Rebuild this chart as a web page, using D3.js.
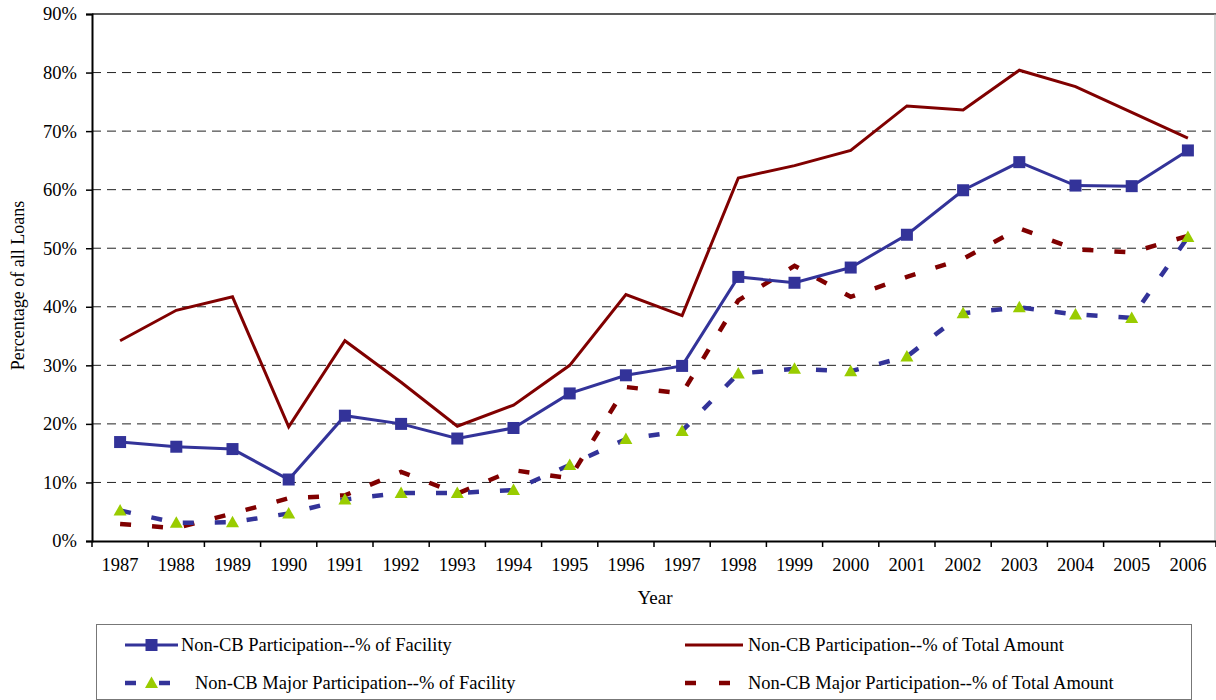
<!DOCTYPE html>
<html>
<head>
<meta charset="utf-8">
<script src="https://cdn.jsdelivr.net/npm/d3@7"></script>
<style>
  body { margin: 0; background: #fff; }
  svg text { font-family: "Liberation Serif", "Times New Roman", serif; fill: #000; }
</style>
</head>
<body>
<div id="chart"></div>
<script>
const width = 1216;
const height = 700;
const margin = { top: 14, bottom: 159, left: 92, right: 0 };

// data
const years = ["1987","1988","1989","1990","1991","1992","1993","1994","1995","1996",
               "1997","1998","1999","2000","2001","2002","2003","2004","2005","2006"];
const facility      = [16.9,16.1,15.7,10.5,21.4,20.0,17.5,19.3,25.2,28.3,29.9,45.1,44.1,46.7,52.3,59.9,64.7,60.7,60.6,66.7];
const totalAmount   = [34.2,39.4,41.7,19.5,34.2,27.1,19.6,23.2,30.0,42.1,38.5,62.0,64.1,66.7,74.3,73.6,80.4,77.6,73.2,68.8];
const majorFacility = [5.2,3.1,3.2,4.7,7.1,8.2,8.2,8.7,13.0,17.4,18.8,28.6,29.4,29.0,31.5,38.9,39.9,38.7,38.1,51.9];
const majorTotal    = [2.9,2.2,4.7,7.3,7.8,11.8,8.1,12.1,10.7,26.3,25.2,41.1,47.0,41.7,45.1,48.2,53.4,49.8,49.3,52.1];
const yTicks = [0,10,20,30,40,50,60,70,80,90];

const series = [
  { name: "Non-CB Participation--% of Facility", values: facility, color: "#333399", width: 3, dash: null, marker: "square" },
  { name: "Non-CB Participation--% of Total Amount", values: totalAmount, color: "#800000", width: 3, dash: null, marker: null },
  { name: "Non-CB Major Participation--% of Facility", values: majorFacility, color: "#333399", width: 4.5, dash: "11,21", marker: "triangle" },
  { name: "Non-CB Major Participation--% of Total Amount", values: majorTotal, color: "#800000", width: 4.5, dash: "11,21", marker: null }
];

const serif = "'Liberation Serif', 'Times New Roman', serif";

const svg = d3.select("#chart").append("svg")
  .attr("width", width)
  .attr("height", height)
  .attr("font-family", serif);

const x = d3.scaleBand()
  .domain(years)
  .range([margin.left, width - margin.right])
  .padding(0);

const y = d3.scaleLinear()
  .domain([0, 90])
  .range([height - margin.bottom, margin.top]);

const bottom = height - margin.bottom;

// grid lines
svg.selectAll(".grid")
  .data(yTicks.filter(d => d > 0 && d < 90))
  .enter().append("line")
  .attr("class", "grid")
  .attr("x1", margin.left)
  .attr("x2", width - margin.right)
  .attr("y1", d => y(d))
  .attr("y2", d => y(d))
  .attr("stroke", "#222")
  .attr("stroke-width", 1)
  .attr("stroke-dasharray", "9,6");

// frame: top line and right edge
svg.append("line")
  .attr("x1", margin.left).attr("x2", width)
  .attr("y1", y(90)).attr("y2", y(90))
  .attr("stroke", "#222").attr("stroke-width", 1.5);
svg.append("line")
  .attr("x1", width - 1).attr("x2", width - 1)
  .attr("y1", y(90)).attr("y2", bottom)
  .attr("stroke", "#aaa").attr("stroke-width", 1);

// y axis
const yAxis = svg.append("g")
  .attr("transform", `translate(${margin.left},0)`)
  .call(d3.axisLeft(y).tickValues(yTicks).tickFormat(d => d + "%").tickSize(6).tickPadding(9));
yAxis.attr("font-family", serif).attr("font-size", 18.5);
yAxis.select(".domain").attr("stroke", "#000").attr("stroke-width", 2);
yAxis.selectAll(".tick line").attr("stroke", "#000").attr("stroke-width", 1.5);
yAxis.selectAll("text").attr("fill", "#000");

// x axis
const xAxis = svg.append("g")
  .attr("transform", `translate(0,${bottom})`)
  .call(d3.axisBottom(x).tickSize(0).tickPadding(17));
xAxis.attr("font-family", serif).attr("font-size", 18.5);
xAxis.select(".domain").attr("stroke", "#000").attr("stroke-width", 2);
xAxis.selectAll("text").attr("fill", "#000");

// tick marks sit at band boundaries
svg.selectAll(".xtick")
  .data(years.concat(["end"]))
  .enter().append("line")
  .attr("class", "xtick")
  .attr("x1", d => d === "end" ? x.range()[1] : x(d))
  .attr("x2", d => d === "end" ? x.range()[1] : x(d))
  .attr("y1", bottom)
  .attr("y2", bottom + 6)
  .attr("stroke", "#000")
  .attr("stroke-width", 1.5);

// axis titles
svg.append("text")
  .attr("x", 655)
  .attr("y", 604)
  .attr("text-anchor", "middle")
  .style("font-size", "19px")
  .text("Year");

svg.append("text")
  .attr("transform", `translate(24,${(y(0) + y(90)) / 2 + 8}) rotate(-90)`)
  .attr("text-anchor", "middle")
  .style("font-size", "18px")
  .text("Percentage of all Loans");

// lines
const line = d3.line()
  .x((d, i) => x(years[i]) + x.bandwidth() / 2)
  .y(d => y(d));

const drawOrder = [1, 3, 2, 0];
drawOrder.forEach(k => {
  const s = series[k];
  svg.append("path")
    .datum(s.values)
    .attr("fill", "none")
    .attr("stroke", s.color)
    .attr("stroke-width", s.width)
    .attr("stroke-dasharray", s.dash)
    .attr("d", line);
});

// markers
function drawMarker(g, type, cx, cy) {
  if (type === "square") {
    g.append("rect")
      .attr("x", cx - 6).attr("y", cy - 6)
      .attr("width", 12).attr("height", 12)
      .attr("fill", "#333399");
  } else if (type === "triangle") {
    g.append("path")
      .attr("d", `M${cx},${cy - 6.5}L${cx + 6.5},${cy + 5}L${cx - 6.5},${cy + 5}Z`)
      .attr("fill", "#99cc00");
  }
}

const markers = svg.append("g");
[2, 0].forEach(k => {
  const s = series[k];
  s.values.forEach((v, i) => {
    drawMarker(markers, s.marker, x(years[i]) + x.bandwidth() / 2, y(v));
  });
});

// legend
const legend = svg.append("g");
legend.append("rect")
  .attr("x", 96.5).attr("y", 624.5)
  .attr("width", 1095).attr("height", 75)
  .attr("fill", "#fff")
  .attr("stroke", "#777")
  .attr("stroke-width", 1);

const legendPos = [
  { x1: 125, x2: 178, tx: 181, ty: 645 },
  { x1: 685, x2: 743, tx: 748, ty: 645 },
  { x1: 125, x2: 178, tx: 195, ty: 683 },
  { x1: 685, x2: 743, tx: 748, ty: 683 }
];

series.forEach((s, k) => {
  const p = legendPos[k];
  legend.append("line")
    .attr("x1", p.x1).attr("x2", p.x2)
    .attr("y1", p.ty).attr("y2", p.ty)
    .attr("stroke", s.color)
    .attr("stroke-width", s.width)
    .attr("stroke-dasharray", s.dash ? "11,23" : null);
  if (s.marker) drawMarker(legend, s.marker, (p.x1 + p.x2) / 2, p.ty);
  legend.append("text")
    .attr("x", p.tx)
    .attr("y", p.ty)
    .attr("dy", "0.35em")
    .style("font-size", "18.5px")
    .text(s.name);
});
</script>
</body>
</html>
